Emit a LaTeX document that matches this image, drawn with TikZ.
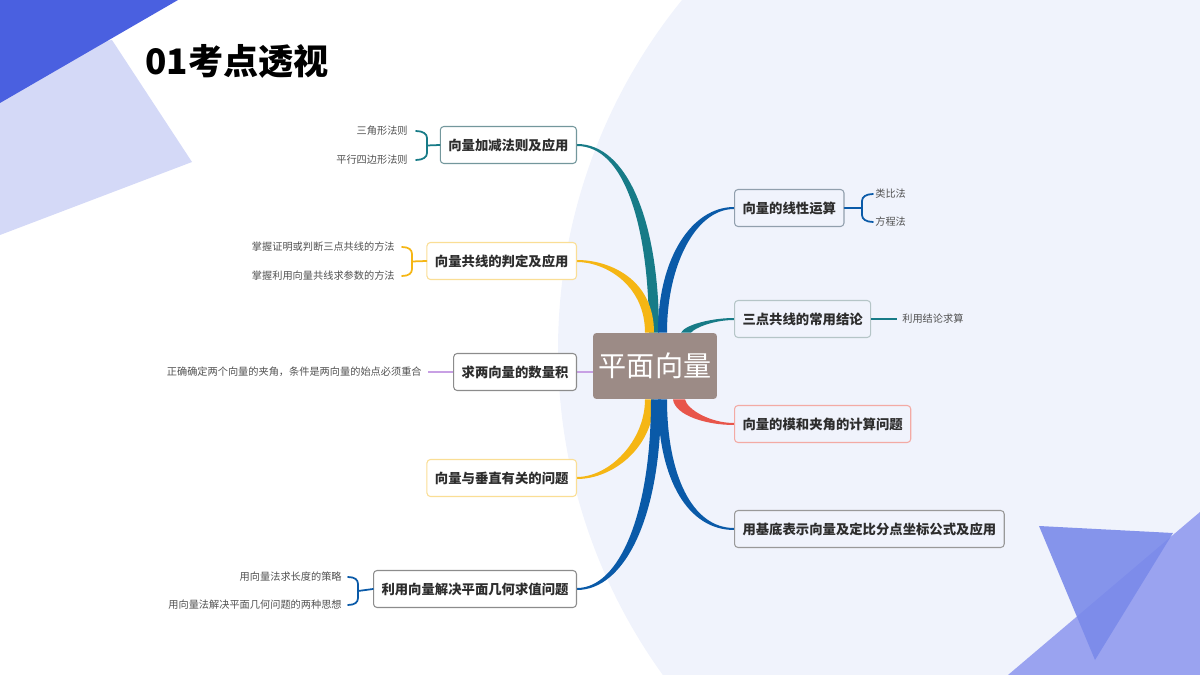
\documentclass[tikz,border=0pt]{standalone}
\usepackage{fontspec}
\setmainfont{Noto Sans CJK SC}
\usetikzlibrary{calc,positioning}
\definecolor{bgcirc}{RGB}{240,243,252}
\definecolor{cdark}{RGB}{74,96,224}
\definecolor{clav}{RGB}{212,217,247}
\definecolor{ctri}{RGB}{154,163,240}
\definecolor{ctrib}{RGB}{122,138,234}
\definecolor{cteal}{RGB}{23,123,135}
\definecolor{cyellow}{RGB}{245,182,20}
\definecolor{cblue}{RGB}{10,90,168}
\definecolor{cred}{RGB}{232,85,74}
\definecolor{cpurple}{RGB}{200,160,228}
\definecolor{croot}{RGB}{156,139,134}
\definecolor{ctext}{RGB}{45,45,45}
\definecolor{cleaf}{RGB}{80,80,80}
\pgfdeclarelayer{bg}
\pgfsetlayers{bg,main}
\tikzset{
  topic/.style={draw, rounded corners=2pt, line width=0.6pt, minimum height=0.74cm,
    inner xsep=0.16cm, inner ysep=0pt, text=ctext,
    font=\fontsize{7.6}{9}\selectfont\bfseries},
  leaf/.style={inner sep=0pt, text=cleaf, font=\fontsize{5.8}{7}\selectfont},
  brace/.style={line width=1pt, line cap=round},
}

\begin{document}
\begin{tikzpicture}[x=0.02cm,y=0.02cm]
        \useasboundingbox (0,0) rectangle (1200,-675);
        %Title
        \node[anchor=west, inner sep=0pt, font=\fontsize{20}{24}\selectfont\bfseries] (title) at (145,-61) {01考点透视};
        %Root
        \node[fill=croot, text=white, rounded corners=2pt, minimum width=2.48cm, minimum height=1.32cm,
          inner sep=0pt, font=\fontsize{16}{18}\selectfont] (root) at (655,-366) {平面向量};
        %Left topics
        \node[topic, anchor=east, draw=cteal!45!gray!80, fill=white] (add) at (577,-145) {向量加减法则及应用};
        \node[topic, anchor=east, draw=cyellow!45, fill=white] (col) at (577,-261) {向量共线的判定及应用};
        \node[topic, anchor=east, draw=gray!90, fill=white] (dot) at (577,-372) {求两向量的数量积};
        \node[topic, anchor=east, draw=cyellow!45, fill=white] (perp) at (577,-478) {向量与垂直有关的问题};
        \node[topic, anchor=east, draw=gray!90, fill=white] (geo) at (577,-589) {利用向量解决平面几何求值问题};
        %Right topics
        \node[topic, anchor=west, draw=cblue!25!gray!70, fill=bgcirc] (lin) at (734,-208) {向量的线性运算};
        \node[topic, anchor=west, draw=cteal!35!gray!45, fill=bgcirc] (three) at (734,-319) {三点共线的常用结论};
        \node[topic, anchor=west, draw=cred!50, fill=bgcirc] (mod) at (734,-424) {向量的模和夹角的计算问题};
        \node[topic, anchor=west, draw=gray!80, fill=bgcirc] (basis) at (734,-529) {用基底表示向量及定比分点坐标公式及应用};
        %Leaves
        \node[leaf, anchor=east] (tri) at (408,-131) {三角形法则};
        \node[leaf, anchor=east] (par) at (408,-160) {平行四边形法则};
        \node[leaf, anchor=east] (proof) at (395,-247) {掌握证明或判断三点共线的方法};
        \node[leaf, anchor=east] (param) at (395,-276) {掌握利用向量共线求参数的方法};
        \node[leaf, anchor=east] (angle) at (422,-372) {正确确定两个向量的夹角，条件是两向量的始点必须重合};
        \node[leaf, anchor=east] (len) at (342,-577) {用向量法求长度的策略};
        \node[leaf, anchor=east] (idea) at (342,-605) {用向量法解决平面几何问题的两种思想};
        \node[leaf, anchor=west] (ana) at (875,-194) {类比法};
        \node[leaf, anchor=west] (equ) at (875,-222) {方程法};
        \node[leaf, anchor=west] (use) at (902,-319) {利用结论求算};
        \begin{pgfonlayer}{bg}
        %Background
        \fill[bgcirc] (1114,-350) circle (556);
        \fill[clav] (0,-60) -- (112,-40) -- (192,-162) -- (0,-235) -- cycle;
        \fill[cdark] (0,0) -- (178,0) -- (0,-103) -- cycle;
        \fill[ctri] (1008,-675) -- (1200,-512) -- (1200,-675) -- cycle;
        \fill[ctrib, opacity=0.9] (1039,-526) -- (1173,-533) -- (1095,-660) -- cycle;
        %Branches left
        \fill[cteal] ($(root.north)+(-6,0)$) .. controls +(0,105) and +(48,0) .. ($(add.east)+(0,-1)$)
          -- ($(add.east)+(0,1)$) .. controls +(50,0) and +(0,112) .. ($(root.north)+(4,0)$) -- cycle;
        \fill[cyellow] ($(root.north)+(-10,0)$) .. controls +(0,48) and +(28,0) .. ($(col.east)+(0,-1)$)
          -- ($(col.east)+(0,1)$) .. controls +(32,0) and +(0,54) .. ($(root.north)+(-1,0)$) -- cycle;
        \fill[cyellow] ($(root.south)+(-10,0)$) .. controls +(0,-42) and +(32,0) .. ($(perp.east)+(0,1)$)
          -- ($(perp.east)+(0,-1)$) .. controls +(36,0) and +(0,-48) .. ($(root.south)+(-1,0)$) -- cycle;
        \fill[cblue] ($(root.south)+(-4,0)$) .. controls +(0,-115) and +(42,0) .. ($(geo.east)+(0,1)$)
          -- ($(geo.east)+(0,-1)$) .. controls +(46,0) and +(0,-122) .. ($(root.south)+(6,0)$) -- cycle;
        \draw[cpurple, line width=1.2pt] (dot.east) -- (dot.east -| root.west);
        %Branches right
        \fill[cblue] ($(root.north)+(3,0)$) .. controls +(0,75) and +(-42,0) .. ($(lin.west)+(0,1)$)
          -- ($(lin.west)+(0,-1)$) .. controls +(-38,0) and +(0,68) .. ($(root.north)+(12,0)$) -- cycle;
        \fill[cteal] ($(root.north)+(26,0)$) .. controls +(4,8) and +(-22,0) .. ($(three.west)+(0,1)$)
          -- ($(three.west)+(0,-1)$) .. controls +(-20,0) and +(4,5) .. ($(root.north)+(36,0)$) -- cycle;
        \fill[cred] ($(root.south)+(18,0)$) .. controls +(2,-16) and +(-28,0) .. ($(mod.west)+(0,-1)$)
          -- ($(mod.west)+(0,1)$) .. controls +(-24,0) and +(2,-10) .. ($(root.south)+(30,0)$) -- cycle;
        \fill[cblue] ($(root.south)+(3,0)$) .. controls +(0,-82) and +(-45,0) .. ($(basis.west)+(0,-1)$)
          -- ($(basis.west)+(0,1)$) .. controls +(-42,0) and +(0,-75) .. ($(root.south)+(12,0)$) -- cycle;
        \end{pgfonlayer}
        %Braces
        \draw[brace, cteal] ($(tri.east)+(8,0)$) .. controls +(7,0) and +(0,4) .. ++(11,-7)
          -- ($(par.east)+(19,7)$) .. controls +(0,-4) and +(7,0) .. ($(par.east)+(8,0)$);
        \draw[brace, cteal] ($(tri.east)!.5!(par.east)+(19,0)$) -- (add.west);
        \draw[brace, cyellow] ($(proof.east)+(7,0)$) .. controls +(7,0) and +(0,4) .. ++(10,-7)
          -- ($(param.east)+(17,7)$) .. controls +(0,-4) and +(7,0) .. ($(param.east)+(7,0)$);
        \draw[brace, cyellow] ($(proof.east)!.5!(param.east)+(17,0)$) -- (col.west);
        \draw[brace, cblue] ($(len.east)+(6,0)$) .. controls +(7,0) and +(0,4) .. ++(10,-7)
          -- ($(idea.east)+(16,7)$) .. controls +(0,-4) and +(7,0) .. ($(idea.east)+(6,0)$);
        \draw[brace, cblue] ($(len.east)!.5!(idea.east)+(16,0)$) -- (geo.west);
        \draw[brace, cblue] ($(ana.west)+(-2,0)$) .. controls +(-7,0) and +(0,4) .. ++(-11,-7)
          -- ($(equ.west)+(-13,7)$) .. controls +(0,-4) and +(-7,0) .. ($(equ.west)+(-2,0)$);
        \draw[brace, cblue] ($(ana.west)!.5!(equ.west)+(-13,0)$) -- (lin.east);
        \draw[cpurple, line width=0.8pt] ($(angle.east)+(6,0)$) -- (dot.west);
        \draw[cteal, line width=1pt] (three.east) -- ($(use.west)+(-5,0)$);
\end{tikzpicture}
\end{document}
